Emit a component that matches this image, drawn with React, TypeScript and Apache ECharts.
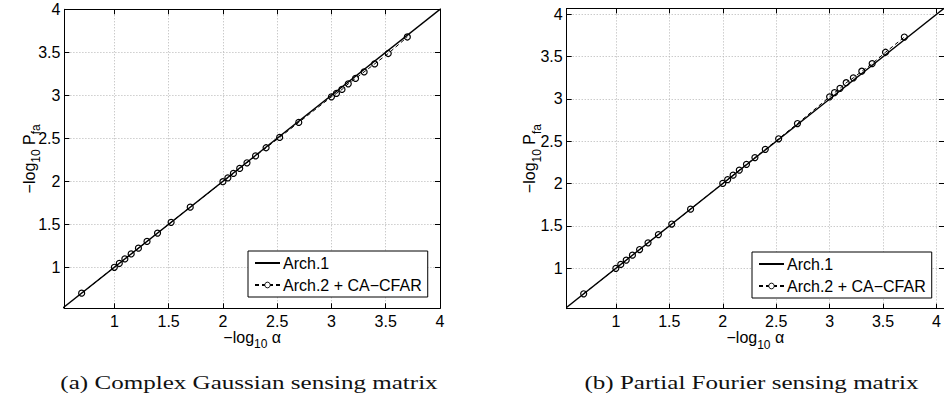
import React, { useEffect, useRef } from "react";
import * as echarts from "echarts";

// -log10(alpha) values at which Arch.2 + CA-CFAR was evaluated
const alphaX = [0.699, 1, 1.046, 1.097, 1.155, 1.222, 1.301, 1.398, 1.523, 1.699, 2, 2.046, 2.097, 2.155, 2.222, 2.301, 2.398, 2.523, 2.699, 3, 3.046, 3.097, 3.155, 3.222, 3.301, 3.398, 3.523, 3.699];
// (a) Complex Gaussian: -log10 Pfa
const gaussPfa = [0.699, 1.0, 1.046, 1.097, 1.155, 1.222, 1.301, 1.398, 1.523, 1.699, 1.995, 2.04, 2.092, 2.15, 2.215, 2.295, 2.39, 2.51, 2.685, 2.982, 3.022, 3.068, 3.133, 3.196, 3.272, 3.365, 3.486, 3.678];
// (b) Partial Fourier: -log10 Pfa
const fourierPfa = [0.699, 1.0, 1.046, 1.097, 1.155, 1.222, 1.301, 1.398, 1.523, 1.699, 2.003, 2.048, 2.1, 2.16, 2.228, 2.308, 2.405, 2.53, 2.71, 3.025, 3.075, 3.126, 3.192, 3.25, 3.328, 3.418, 3.552, 3.732];
// Arch.1 : ideal line (-log10 Pfa = -log10 alpha)
const arch1Line = [0.5, 4.1];
const tickValues = [1, 1.5, 2, 2.5, 3, 3.5, 4];
const seriesNames = ["Arch.1", "Arch.2 + CA\u2212CFAR"];
const captions = ["(a) Complex Gaussian sensing matrix", "(b) Partial Fourier sensing matrix"];

const SANS = "Liberation Sans";

// main text on top of a 21px line, subscripts pushed down by padding
const nameRich = {
  m: { fontSize: 16, fontFamily: SANS, color: "#000", lineHeight: 16, verticalAlign: "top" },
  s: { fontSize: 12, fontFamily: SANS, color: "#000", lineHeight: 12, verticalAlign: "top", padding: [9, 0, 0, 0] },
};

function xAxes(gridIndex: number, min: number, max: number) {
  const common = {
    type: "value",
    gridIndex,
    min,
    max,
    axisLine: { show: true, onZero: false, lineStyle: { color: "#000", width: 1 } },
    axisTick: { show: true, inside: true, length: 5, customValues: tickValues, lineStyle: { color: "#000" } },
  };
  return [
    {
      ...common,
      position: "bottom",
      axisLabel: { show: true, customValues: tickValues, color: "#000", fontSize: 16, lineHeight: 14, fontFamily: SANS, margin: 6, formatter: (v: number) => String(v) },
      splitLine: { show: true, lineStyle: { color: "#b4b4b4", type: [1, 2], width: 1 } },
      name: "{m|\u2212log}{s|10}{m| \u03b1}",
      nameLocation: "middle",
      nameGap: 21,
      nameMoveOverlap: false,
      nameTextStyle: { color: "#000", rich: nameRich },
    },
    {
      ...common,
      position: "top",
      axisLabel: { show: false },
      splitLine: { show: false },
    },
  ];
}

function yAxes(gridIndex: number, min: number, max: number, nameGap: number) {
  const common = {
    type: "value",
    gridIndex,
    min,
    max,
    axisLine: { show: true, onZero: false, lineStyle: { color: "#000", width: 1 } },
    axisTick: { show: true, inside: true, length: 5, customValues: tickValues, lineStyle: { color: "#000" } },
  };
  return [
    {
      ...common,
      position: "left",
      axisLabel: { show: true, customValues: tickValues, color: "#000", fontSize: 16, lineHeight: 14, fontFamily: SANS, margin: 4, formatter: (v: number) => String(v) },
      splitLine: { show: true, lineStyle: { color: "#b4b4b4", type: [1, 2], width: 1 } },
      name: "{m|\u2212log}{s|10}{m| P}{s|fa}",
      nameLocation: "middle",
      nameRotate: 90,
      nameGap,
      nameMoveOverlap: false,
      nameTextStyle: { color: "#000", rich: nameRich },
    },
    {
      ...common,
      position: "right",
      axisLabel: { show: false },
      splitLine: { show: false },
    },
  ];
}

function seriesFor(xIdx: number, yIdx: number, ys: number[]) {
  return [
    {
      name: seriesNames[0],
      type: "line",
      xAxisIndex: xIdx,
      yAxisIndex: yIdx,
      data: arch1Line.map((v) => [v, v]),
      symbol: "none",
      lineStyle: { color: "#000", width: 1.4 },
      itemStyle: { color: "#000" },
      z: 3,
    },
    {
      name: seriesNames[1],
      type: "line",
      xAxisIndex: xIdx,
      yAxisIndex: yIdx,
      data: alphaX.map((x, i) => [x, ys[i]]),
      symbol: "circle",
      symbolSize: 6,
      lineStyle: { color: "#000", width: 1, type: [4, 3] },
      itemStyle: { color: "rgba(255,255,255,0)", borderColor: "#000", borderWidth: 1.2 },
      z: 4,
    },
  ];
}

function legendAt(left: number, top: number) {
  return {
    show: true,
    orient: "vertical",
    left,
    top,
    data: [
      { name: seriesNames[0], itemStyle: { opacity: 0 } },
      { name: seriesNames[1], itemStyle: { color: "#fff", borderColor: "#000", borderWidth: 1 } },
    ],
    backgroundColor: "#fff",
    borderColor: "#000",
    borderWidth: 1,
    borderRadius: 0,
    padding: [3, 6, 3, 6],
    itemGap: 4,
    itemWidth: 25,
    itemHeight: 7,
    selectedMode: false,
    textStyle: { color: "#000", fontSize: 16, fontFamily: SANS, lineHeight: 18, padding: [0, 0, 0, -2] },
  };
}

export default function App() {
  const ref = useRef<HTMLDivElement>(null);
  useEffect(() => {
    if (!ref.current) return;
    const chart = echarts.init(ref.current, null, { renderer: "svg" });
    chart.setOption({
      animation: false,
      backgroundColor: "#fff",
      grid: [
        { left: 64.4, top: 9.3, width: 375.6, height: 299 },
        { left: 566.7, top: 8.4, width: 383.7, height: 300.3 },
      ],
      xAxis: [...xAxes(0, 0.54, 4), ...xAxes(1, 0.54, 4.07)],
      yAxis: [...yAxes(0, 0.523, 4, 27), ...yAxes(1, 0.523, 4.07, 29)],
      legend: [legendAt(248, 251), legendAt(752, 252)],
      series: [...seriesFor(0, 0, gaussPfa), ...seriesFor(2, 2, fourierPfa)],
      graphic: [
        {
          type: "text",
          x: 249,
          y: 383,
          scaleX: 1.32,
          style: { text: captions[0], font: "19px 'Liberation Serif'", fill: "#111", align: "center", verticalAlign: "middle" },
        },
        {
          type: "text",
          x: 751.5,
          y: 383,
          scaleX: 1.32,
          style: { text: captions[1], font: "19px 'Liberation Serif'", fill: "#111", align: "center", verticalAlign: "middle" },
        },
      ],
    });
    return () => chart.dispose();
  }, []);
  return <div ref={ref} style={{ position: "fixed", left: 0, top: 0, width: 944, height: 399 }} />;
}
